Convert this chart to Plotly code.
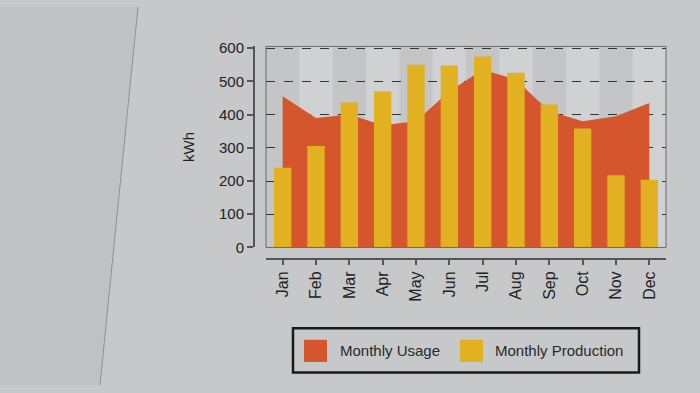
import plotly.graph_objects as go

months = ["Jan", "Feb", "Mar", "Apr", "May", "Jun", "Jul", "Aug", "Sep", "Oct", "Nov", "Dec"]
usage = [455, 390, 400, 368, 380, 470, 535, 505, 410, 380, 395, 435]
production = [240, 305, 436, 470, 550, 548, 575, 526, 430, 358, 217, 204]
y_ticks = [0, 100, 200, 300, 400, 500, 600]
legend_labels = ["Monthly Usage", "Monthly Production"]

W, H = 700, 393
ORANGE = "#d5562c"
YELLOW = "#e2b122"
PAPER = "#c6c8ca"
Y_RANGE = [0, 605]

def px(x):
    return x / W

def py(y):
    return 1 - y / H

x0, x1 = px(266), px(666)
y0, y1 = py(250), py(41)

fig = go.Figure()
fig.add_trace(go.Scatter(x=months, y=usage, fill="tozeroy", mode="lines",
                         line=dict(width=0, color=ORANGE), fillcolor=ORANGE,
                         name=legend_labels[0], showlegend=False, hoverinfo="skip"))
fig.add_trace(go.Bar(x=months, y=production, marker=dict(color=YELLOW, line=dict(width=0)),
                     width=0.52, name=legend_labels[1], showlegend=False,
                     xaxis="x2", yaxis="y2"))

shapes = []
# page edge
shapes.append(dict(type="path", xref="paper", yref="paper",
                   path=f"M 0 0 L {px(100)} 0 L {px(138)} 1 L 0 1 Z",
                   fillcolor="#bfc2c5", line=dict(width=0), layer="below"))
shapes.append(dict(type="line", xref="paper", yref="paper", x0=px(100), y0=0, x1=px(138), y1=1,
                   line=dict(color="#8e9093", width=1)))
# alternating column bands
for i, m in enumerate(months):
    if i % 2 == 0:
        shapes.append(dict(type="rect", xref="x", yref="paper", x0=i - 0.5, x1=i + 0.5,
                           y0=y0, y1=y1, fillcolor="#c4c5c6", line=dict(width=0), layer="below"))
# plot border
shapes.append(dict(type="rect", xref="paper", yref="paper", x0=x0, x1=x1, y0=y0, y1=y1,
                   line=dict(color="#6a6a6a", width=1)))
# legend box
shapes.append(dict(type="rect", xref="paper", yref="paper", x0=px(293), x1=px(639), y0=py(380), y1=py(334),
                   line=dict(color="#1a1a1a", width=2.5), fillcolor="rgba(0,0,0,0)"))
shapes.append(dict(type="rect", xref="paper", yref="paper", x0=px(304), x1=px(327), y0=py(369), y1=py(346),
                   line=dict(width=0), fillcolor=ORANGE))
shapes.append(dict(type="rect", xref="paper", yref="paper", x0=px(460), x1=px(483), y0=py(369), y1=py(346),
                   line=dict(width=0), fillcolor=YELLOW))

annotations = [
    dict(text=legend_labels[0], xref="paper", yref="paper", x=px(338), y=py(357), xanchor="left",
         yanchor="middle", showarrow=False, font=dict(size=15, color="#2a2a2a")),
    dict(text=legend_labels[1], xref="paper", yref="paper", x=px(493), y=py(357), xanchor="left",
         yanchor="middle", showarrow=False, font=dict(size=15, color="#2a2a2a")),
]

fig.update_layout(
    width=W, height=H,
    margin=dict(l=0, r=0, t=0, b=0),
    paper_bgcolor=PAPER,
    plot_bgcolor="#d0d1d2",
    font=dict(family="Liberation Sans, Arial, sans-serif", size=15, color="#222222"),
    showlegend=False,
    shapes=shapes,
    annotations=annotations,
    xaxis=dict(domain=[x0, x1], range=[-0.5, 11.5], anchor="free", position=py(262),
               showline=True, linecolor="#555555", linewidth=2, ticks="outside", ticklen=5,
               tickwidth=2, tickcolor="#555555", tickangle=-90, showgrid=False,
               tickfont=dict(size=16, color="#222222")),
    yaxis=dict(domain=[y0, y1], range=Y_RANGE, anchor="free", position=px(254),
               tickvals=y_ticks, showline=True, linecolor="#555555", linewidth=2,
               ticks="outside", ticklen=6, tickwidth=2, tickcolor="#555555",
               showgrid=True, gridcolor="#333333", gridwidth=1, griddash="dash", zeroline=False,
               title=dict(text="kWh", standoff=20, font=dict(size=15, color="#222222")),
               tickfont=dict(size=15, color="#222222")),
    xaxis2=dict(overlaying="x", range=[-0.5, 11.5], visible=False, matches="x"),
    yaxis2=dict(overlaying="y", range=Y_RANGE, visible=False),
)

fig.write_html(
    "out.html",
    config={"displayModeBar": False},
    post_script=(
        "document.body.style.margin='0';"
        "document.body.style.overflow='hidden';"
        f"document.body.style.background='{PAPER}';"
    ),
)
